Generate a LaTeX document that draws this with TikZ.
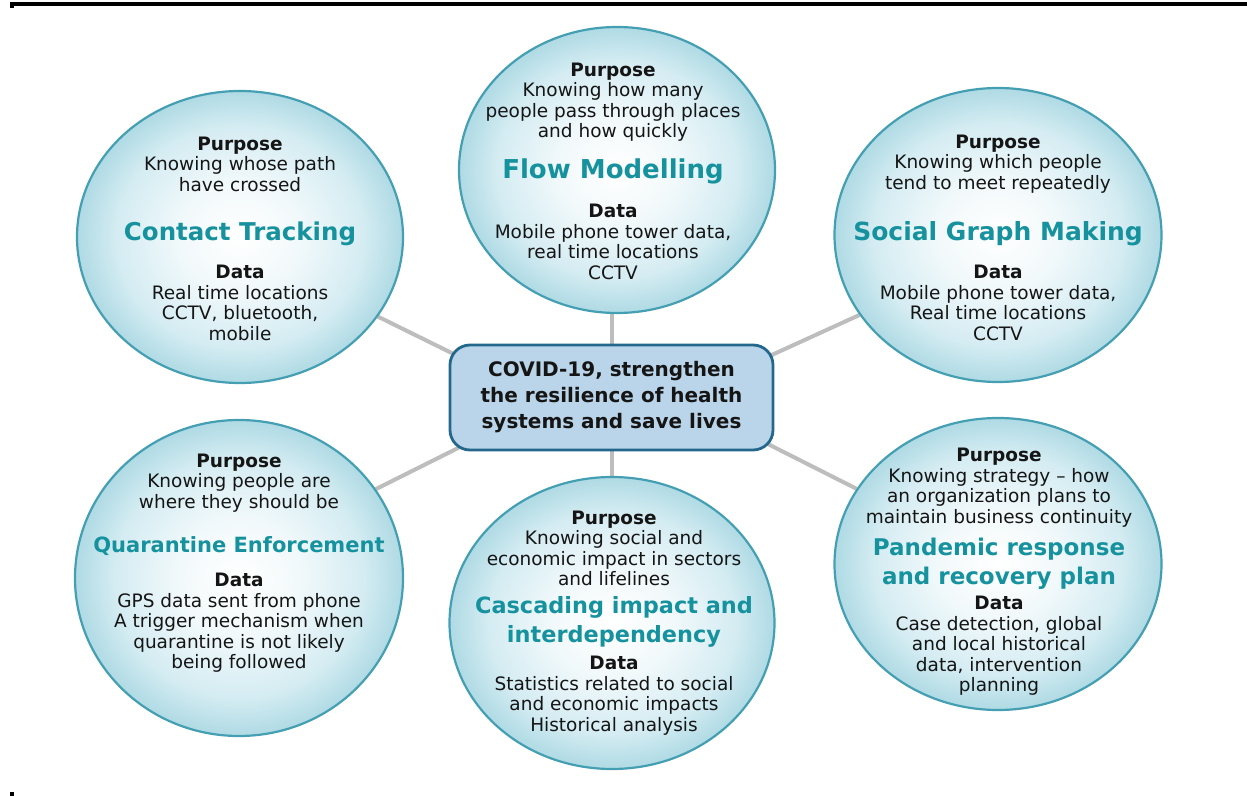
\documentclass[tikz,border=0pt]{standalone}
\usepackage{fontspec}
\setmainfont{DejaVu Sans}
\usetikzlibrary{shapes.geometric}
\definecolor{bubIn}{HTML}{FFFFFF}
\definecolor{bubIn2}{HTML}{F2F9FB}
\definecolor{bubMid}{HTML}{D4ECF2}
\definecolor{bubOut}{HTML}{AFDAE4}
\definecolor{bubEdge}{HTML}{449FB3}
\definecolor{ttlCol}{HTML}{16929E}
\definecolor{txtCol}{HTML}{151515}
\definecolor{boxFill}{HTML}{BAD5E9}
\definecolor{boxEdge}{HTML}{24678C}
\definecolor{linkCol}{HTML}{BDBDBD}
\pgfdeclareradialshading{bubshade}{\pgfpoint{0bp}{0bp}}{color(0bp)=(bubIn); color(9bp)=(bubIn2); color(19bp)=(bubMid); color(25bp)=(bubOut); color(50bp)=(bubOut)}
\pgfdeclarelayer{bg}
\pgfsetlayers{bg,main}
\tikzset{
  bub/.style={ellipse, inner sep=0pt, draw=bubEdge, line width=2.2bp, shading=bubshade},
  body/.style={align=center, inner sep=0pt, text=txtCol, font=\fontsize{18.5bp}{20.5bp}\selectfont},
  ttl/.style={align=center, inner sep=0pt, text=ttlCol, font=\fontsize{#1}{29bp}\selectfont\bfseries},
  hubbox/.style={rectangle, rounded corners=20bp, minimum width=323bp, minimum height=105bp, draw=boxEdge, line width=2.8bp, fill=boxFill, align=center, inner sep=0pt, text=txtCol, font=\fontsize{20bp}{26bp}\selectfont\bfseries},
  link/.style={draw=linkCol, line width=4bp}
}
\begin{document}
\begin{tikzpicture}[x=1bp,y=-1bp]
\useasboundingbox (0,0) rectangle (1247,796);
% frame marks
\fill[black] (10,2) rectangle (1247,6);
\fill[black] (10,6) rectangle (14,8);
\fill[black] (10,792) rectangle (14,796);

% bubbles
\node[bub, minimum width=326bp, minimum height=292bp] (ct) at (240,237) {};
\node[bub, minimum width=316bp, minimum height=286bp] (fm) at (617,170) {};
\node[bub, minimum width=327bp, minimum height=294bp] (sg) at (998,235) {};
\node[bub, minimum width=328bp, minimum height=316bp] (qe) at (239,578) {};
\node[bub, minimum width=325bp, minimum height=292bp] (ci) at (612,623) {};
\node[bub, minimum width=327bp, minimum height=292bp] (pr) at (998,564) {};

% centre box
\node[hubbox] (hub) at (611.5,397.5) {COVID-19, strengthen\\the resilience of health\\systems and save lives};
\coordinate (hubNW) at (470,362);
\coordinate (hubNE) at (752,364);
\coordinate (hubSW) at (470,442);
\coordinate (hubSE) at (752,436);

% connectors
\begin{pgfonlayer}{bg}
\draw[link] (hub.north) -- (hub.north |- fm.south);
\draw[link] (hub.south) -- (hub.south |- ci.north);
\draw[link] (ct.-30) -- (hubNW);
\draw[link] (sg.210) -- (hubNE);
\draw[link] (qe.33) -- (hubSW);
\draw[link] (pr.152) -- (hubSE);
\end{pgfonlayer}

% Contact Tracking
\node[body] (ctP) at (240,164) {\textbf{Purpose}\\Knowing whose path\\have crossed};
\node[ttl=24.5bp] (ctT) at (240,234) {Contact Tracking};
\node[body] (ctD) at (240,303) {\textbf{Data}\\Real time locations\\CCTV, bluetooth,\\mobile};

% Flow Modelling
\node[body] (fmP) at (613,102) {\textbf{Purpose}\\Knowing how many\\people pass through places\\and how quickly};
\node[ttl=26bp] (fmT) at (613,171) {Flow Modelling};
\node[body] (fmD) at (613,242) {\textbf{Data}\\Mobile phone tower data,\\real time locations\\CCTV};

% Social Graph Making
\node[body] (sgP) at (998,164) {\textbf{Purpose}\\Knowing which people\\tend to meet repeatedly};
\node[ttl=25bp] (sgT) at (998,234) {Social Graph Making};
\node[body] (sgD) at (998,303) {\textbf{Data}\\Mobile phone tower data,\\Real time locations\\CCTV};

% Quarantine Enforcement
\node[body] (qeP) at (239,483) {\textbf{Purpose}\\Knowing people are\\where they should be};
\node[ttl=21bp] (qeT) at (239,546) {Quarantine Enforcement};
\node[body] (qeD) at (239,623) {\textbf{Data}\\GPS data sent from phone\\A trigger mechanism when\\quarantine is not likely\\being followed};

% Cascading impact
\node[body] (ciP) at (614,548.5) {\textbf{Purpose}\\Knowing social and\\economic impact in sectors\\and lifelines};
\node[ttl=22.4bp] (ciT) at (614,621.5) {Cascading impact and\\interdependency};
\node[body] (ciD) at (614,695.5) {\textbf{Data}\\Statistics related to social\\and economic impacts\\Historical analysis};

% Pandemic response
\node[body] (prP) at (999,487.5) {\textbf{Purpose}\\Knowing strategy – how\\an organization plans to\\maintain business continuity};
\node[ttl=23bp] (prT) at (999,563.5) {Pandemic response\\and recovery plan};
\node[body] (prD) at (999,646) {\textbf{Data}\\Case detection, global\\and local historical\\data, intervention\\planning};
\end{tikzpicture}
\end{document}
